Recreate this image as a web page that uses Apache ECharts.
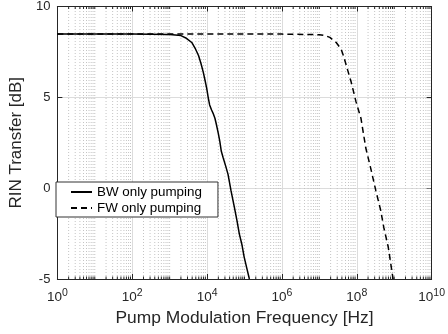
<!DOCTYPE html>
<html>
<head>
<meta charset="utf-8">
<script src="https://cdn.jsdelivr.net/npm/echarts@6/dist/echarts.min.js"></script>
<style>
html,body{margin:0;padding:0;background:#fff;}
#chart{width:448px;height:334px;}
</style>
</head>
<body>
<div id="chart"></div>
<script>
// Frequencies in Hz, RIN transfer in dB
const bwFreq = [1, 10, 100, 1000, 2.0e3, 2.8e3, 3.9e3, 4.8e3, 5.9e3, 6.9e3, 7.9e3, 8.9e3, 9.8e3, 1.07e4, 1.17e4, 1.32e4, 1.45e4, 1.62e4, 1.78e4, 2.0e4, 2.19e4, 2.4e4, 2.69e4, 3.16e4, 3.63e4, 4.37e4, 5.37e4, 6.31e4, 7.24e4, 8.51e4, 9.77e4, 1.15e5, 1.35e5];
const bwValue = [8.48, 8.48, 8.48, 8.46, 8.4, 8.25, 8.02, 7.7, 7.3, 6.85, 6.39, 5.9, 5.48, 5.0, 4.58, 4.3, 4.12, 3.85, 3.49, 3.0, 2.58, 2.03, 1.67, 1.2, 0.76, -0.15, -1.06, -1.8, -2.5, -3.1, -3.78, -4.4, -5.0];
const fwFreq = [1, 1e3, 1e6, 1e7, 1.41e7, 1.91e7, 2.82e7, 3.8e7, 4.47e7, 5.25e7, 7.08e7, 9.55e7, 1.29e8, 1.74e8, 2.34e8, 3.24e8, 4.37e8, 5.25e8, 6.92e8, 9.12e8, 9.33e8];
const fwValue = [8.48, 8.48, 8.48, 8.45, 8.4, 8.3, 8.02, 7.66, 7.25, 6.75, 5.84, 4.75, 3.85, 2.21, 1.12, -0.15, -1.24, -2.15, -3.24, -4.87, -5.0];
const seriesNames = ['BW only pumping', 'FW only pumping'];
const xMin = 1, xMax = 1e10;
const yMin = -5, yMax = 10, yStep = 5;
const xTitle = 'Pump Modulation Frequency [Hz]';
const yTitle = 'RIN Transfer [dB]';
// minor grid positions (k * 10^n), excluding the labelled decades
const minorVals = [];
for (let n = 0; n < 10; n++) {
  for (let k = 1; k <= 9; k++) {
    if (k === 1 && n % 2 === 0) continue;
    minorVals.push([k * Math.pow(10, n)]);
  }
}

const txt = '#262626';
const font = 'Liberation Sans, Arial, Helvetica, sans-serif';
const chart = echarts.init(document.getElementById('chart'), null, {renderer: 'canvas'});
const zip = (a, b) => a.map((v, i) => [v, b[i]]);

chart.setOption({
  animation: false,
  textStyle: {fontFamily: font, color: txt},
  grid: {left: 54, right: 14, top: 4, bottom: 55, containLabel: false},
  legend: {
    left: 56, top: 182, orient: 'vertical',
    backgroundColor: '#fff', borderColor: '#333', borderWidth: 1, borderRadius: 0,
    padding: [3, 16, 2, 14], itemGap: 2, itemWidth: 21, itemHeight: 14,
    itemStyle: {opacity: 0},
    textStyle: {fontSize: 13.4, lineHeight: 14, color: '#000', fontFamily: font},
    data: seriesNames
  },
  xAxis: [{
    // base-100 log axis: one labelled tick every two decades
    type: 'log', logBase: 100, min: xMin, max: xMax, splitNumber: 5,
    name: xTitle, nameLocation: 'middle', nameGap: 29,
    nameTextStyle: {fontSize: 17.4, color: txt, fontFamily: font},
    axisLine: {show: true, onZero: false, lineStyle: {color: '#262626', width: 1}},
    axisTick: {show: true, inside: true, length: 5, lineStyle: {color: '#262626'}},
    splitLine: {show: true, lineStyle: {color: '#dcdcdc', width: 1}},
    axisLabel: {
      margin: 8.5, color: txt,
      formatter: v => '{b|10}{s|' + Math.round(Math.log10(v)) + '}',
      rich: {
        b: {fontSize: 13.5, lineHeight: 20, color: txt, fontFamily: font},
        s: {fontSize: 10.5, lineHeight: 10, verticalAlign: 'top', color: txt, fontFamily: font}
      }
    }
  }, {
    type: 'log', logBase: 100, min: xMin, max: xMax, splitNumber: 5, position: 'top',
    axisLine: {show: true, onZero: false, lineStyle: {color: '#262626', width: 1}},
    axisTick: {show: true, inside: true, length: 5, lineStyle: {color: '#262626'}},
    splitLine: {show: false}, axisLabel: {show: false}
  }],
  yAxis: [{
    type: 'value', min: yMin, max: yMax, interval: yStep,
    name: yTitle, nameLocation: 'middle', nameGap: 24,
    nameTextStyle: {fontSize: 17, color: txt, fontFamily: font},
    axisLine: {show: true, onZero: false, lineStyle: {color: '#262626', width: 1}},
    axisTick: {show: true, inside: true, length: 5, lineStyle: {color: '#262626'}},
    splitLine: {show: true, lineStyle: {color: '#dcdcdc', width: 1}},
    axisLabel: {fontSize: 13, color: txt, margin: 7, fontFamily: font}
  }, {
    type: 'value', min: yMin, max: yMax, interval: yStep, position: 'right',
    axisLine: {show: true, onZero: false, lineStyle: {color: '#262626', width: 1}},
    axisTick: {show: true, inside: true, length: 5, lineStyle: {color: '#262626'}},
    splitLine: {show: false}, axisLabel: {show: false}
  }],
  series: [{
    type: 'custom', name: 'minorGrid', silent: true, z: 1,
    xAxisIndex: 0, yAxisIndex: 0,
    data: minorVals,
    encode: {x: 0},
    renderItem: function (params, api) {
      const x = api.value(0);
      const p0 = api.coord([x, yMin]);
      const p1 = api.coord([x, yMax]);
      const style = {stroke: '#c4c4c4', lineWidth: 1, lineDash: [1, 2]};
      const tick = {stroke: '#262626', lineWidth: 1};
      return {
        type: 'group',
        children: [
          {type: 'line', shape: {x1: p0[0], y1: p0[1], x2: p1[0], y2: p1[1]}, style: style},
          {type: 'line', shape: {x1: p0[0], y1: p0[1], x2: p0[0], y2: p0[1] - 2.5}, style: tick},
          {type: 'line', shape: {x1: p1[0], y1: p1[1], x2: p1[0], y2: p1[1] + 2.5}, style: tick}
        ]
      };
    }
  }, {
    type: 'line', name: seriesNames[1], data: zip(fwFreq, fwValue),
    symbol: 'none', z: 3,
    lineStyle: {color: '#000', width: 1.5, type: [6, 4]},
    itemStyle: {color: '#000'}
  }, {
    type: 'line', name: seriesNames[0], data: zip(bwFreq, bwValue),
    symbol: 'none', z: 4,
    lineStyle: {color: '#000', width: 1.5, type: 'solid'},
    itemStyle: {color: '#000'}
  }]
});
</script>
</body>
</html>
